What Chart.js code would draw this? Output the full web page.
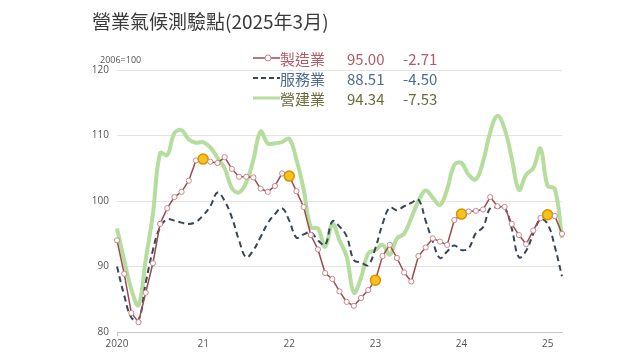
<!DOCTYPE html>
<html>
<head>
<meta charset="utf-8">
<script src="https://cdn.jsdelivr.net/npm/chart.js@4/dist/chart.umd.min.js"></script>
<style>
    body { margin: 0; background: #fff; }
    #wrap { position: relative; width: 640px; height: 360px; font-family: "Noto Sans CJK TC", "Noto Sans", sans-serif; }
    #chart { position: absolute; left: 0; top: 0; }
    #title { position: absolute; left: 92px; top: 7px; font-size: 19px; color: #3a3a3a; white-space: nowrap; }
    #unit { position: absolute; left: 100px; top: 53px; font-size: 9px; color: #555; font-family: "Open Sans", sans-serif; }
    #legend { position: absolute; left: 253px; top: 48px; }
    .legend-item { display: flex; align-items: center; height: 20px; font-size: 15px; white-space: nowrap; }
    .legend-mark { width: 27px; height: 20px; }
    .legend-name { width: 67px; }
    .legend-value { width: 56px; }
</style>
</head>
<body>
<div id="wrap">
    <canvas id="chart" width="640" height="360"></canvas>
    <div id="title">營業氣候測驗點(2025年3月)</div>
    <div id="unit">2006=100</div>
    <div id="legend"></div>
</div>
<script>
// Data (monthly, Jan 2020 - Mar 2025)
const years = [2020, 2021, 2022, 2023, 2024, 2025];
const tickLabels = ['2020', '21', '22', '23', '24', '25'];
const seriesNames = ['製造業', '服務業', '營建業'];

const manufacturing = [
    94.0, 88.9, 82.9, 81.5, 86.0, 90.5, 96.5, 98.9, 100.6, 101.4, 103.1, 106.2,
    106.4, 106.0, 105.8, 106.7, 104.9, 103.7, 103.7, 103.6, 101.9, 101.4, 102.3, 104.2,
    103.8, 101.5, 99.1, 94.8, 92.6, 89.0, 88.1, 86.2, 84.6, 84.0, 85.2, 86.4,
    87.9, 91.6, 93.3, 91.3, 89.1, 87.7, 91.6, 92.9, 94.3, 93.8, 93.3, 97.1,
    98.0, 98.4, 98.5, 98.7, 100.6, 99.2, 99.1, 96.5, 94.8, 93.4, 95.5, 97.4,
    97.9, 97.71, 95.00
];
const services = [
    90.0, 85.6, 82.2, 81.8, 87.5, 92.5, 96.0, 97.2, 97.0, 96.7, 96.5, 96.8,
    97.8, 99.2, 101.3, 100.0, 97.5, 94.0, 91.4, 92.5, 94.5, 96.6, 98.0, 98.9,
    97.0, 94.4, 94.9, 95.2, 94.0, 93.3, 96.9, 96.1, 94.6, 91.0, 90.6, 90.2,
    92.8, 96.5, 99.0, 98.6, 99.2, 99.7, 100.2, 97.0, 93.8, 91.3, 92.3, 93.2,
    92.5, 92.8, 95.1, 96.0, 98.9, 99.0, 99.0, 95.8, 91.4, 92.4, 95.0, 97.2,
    96.5, 93.01, 88.51
];
const construction = [
    95.8, 91.0, 86.5, 84.1, 91.0, 98.0, 107.3, 107.0, 110.4, 110.8, 109.4, 108.9,
    109.0, 108.2, 106.6, 105.0, 102.0, 101.3, 102.8, 106.3, 110.6, 108.8, 108.8, 109.0,
    109.5, 106.3, 101.8, 96.0, 95.8, 93.0, 96.5, 94.0, 91.5, 86.0, 88.3, 92.0,
    92.5, 93.3, 91.8, 94.3, 95.0, 97.4, 100.0, 101.6, 100.5, 99.4, 101.8, 105.5,
    105.8, 104.0, 103.3, 106.0, 110.5, 113.0, 111.0, 106.5, 101.7, 104.0, 105.0, 108.0,
    102.3, 101.87, 94.34
];

// Month categories
const months = [];
years.forEach(y => {
    for (let m = 1; m <= 12; m++) {
        if (months.length < manufacturing.length) months.push(y + '-' + m);
    }
});

const colors = {
    manuLine: '#9d4a4f',
    manuText: '#b35a64',
    servLine: '#38465a',
    servText: '#4e6b8e',
    consLine: '#b5dd9d',
    consText: '#6a6c3c'
};

// January points (from 2021 on) get the yellow highlight
function isHighlight(i) {
    return i > 0 && i % 12 === 0;
}

const ctx = document.getElementById('chart').getContext('2d');
new Chart(ctx, {
    type: 'line',
    data: {
        labels: months,
        datasets: [
            {
                label: seriesNames[0],
                data: manufacturing,
                borderColor: colors.manuLine,
                borderWidth: 1.5,
                tension: 0,
                order: 0,
                pointRadius: c => isHighlight(c.dataIndex) ? 5 : 2.6,
                pointBackgroundColor: c => isHighlight(c.dataIndex) ? '#f6c21c' : '#ffffff',
                pointBorderColor: c => isHighlight(c.dataIndex) ? '#e08f00' : '#c9868a',
                pointBorderWidth: c => isHighlight(c.dataIndex) ? 1.5 : 1
            },
            {
                label: seriesNames[1],
                data: services,
                borderColor: colors.servLine,
                borderWidth: 2,
                borderDash: [6, 4],
                tension: 0.4,
                pointRadius: 0,
                order: 1
            },
            {
                label: seriesNames[2],
                data: construction,
                borderColor: colors.consLine,
                borderWidth: 4,
                tension: 0.4,
                pointRadius: 0,
                order: 2
            }
        ]
    },
    options: {
        responsive: false,
        animation: false,
        devicePixelRatio: 1,
        layout: { padding: { left: 80, right: 78, top: 70, bottom: 6 } },
        plugins: {
            legend: { display: false },
            tooltip: { enabled: false }
        },
        scales: {
            x: {
                offset: false,
                afterFit: s => { s.height = 22; },
                border: { display: true, color: '#c8c8c8' },
                grid: {
                    drawOnChartArea: false,
                    drawTicks: true,
                    tickLength: 4,
                    color: c => c.index % 12 === 0 ? '#bdbdbd' : 'transparent'
                },
                ticks: {
                    autoSkip: false,
                    maxRotation: 0,
                    padding: 2,
                    color: '#555',
                    font: { size: 10, family: 'Open Sans' },
                    callback: (v, i) => i % 12 === 0 ? tickLabels[i / 12] : null
                }
            },
            y: {
                min: 80,
                max: 120,
                afterFit: s => { s.width = 37; },
                border: { display: false },
                grid: { color: '#e3e3e3', drawTicks: false },
                ticks: {
                    stepSize: 10,
                    padding: 8,
                    color: '#555',
                    font: { size: 10, family: 'Open Sans' }
                }
            }
        }
    }
});

// Custom legend with latest value and monthly change
function createLegend() {
    const legend = document.getElementById('legend');
    const series = [
        { data: manufacturing, text: colors.manuText, mark: '<line x1="0" y1="10" x2="27" y2="10" stroke="' + colors.manuLine + '" stroke-width="1.5"/><circle cx="15" cy="10" r="3" fill="#fff" stroke="#c9868a" stroke-width="1"/>' },
        { data: services, text: colors.servText, mark: '<line x1="0" y1="10" x2="27" y2="10" stroke="' + colors.servLine + '" stroke-width="2" stroke-dasharray="5,3"/>' },
        { data: construction, text: colors.consText, mark: '<line x1="0" y1="10" x2="27" y2="10" stroke="' + colors.consLine + '" stroke-width="3"/>' }
    ];
    series.forEach((s, i) => {
        const last = s.data[s.data.length - 1];
        const prev = s.data[s.data.length - 2];

        const item = document.createElement('div');
        item.className = 'legend-item';
        item.style.color = s.text;

        const mark = document.createElement('span');
        mark.className = 'legend-mark';
        mark.innerHTML = '<svg width="27" height="20">' + s.mark + '</svg>';

        const name = document.createElement('span');
        name.className = 'legend-name';
        name.textContent = seriesNames[i];

        const value = document.createElement('span');
        value.className = 'legend-value';
        value.textContent = last.toFixed(2);

        const change = document.createElement('span');
        change.textContent = (last - prev).toFixed(2);

        item.appendChild(mark);
        item.appendChild(name);
        item.appendChild(value);
        item.appendChild(change);
        legend.appendChild(item);
    });
}
createLegend();
</script>
</body>
</html>
